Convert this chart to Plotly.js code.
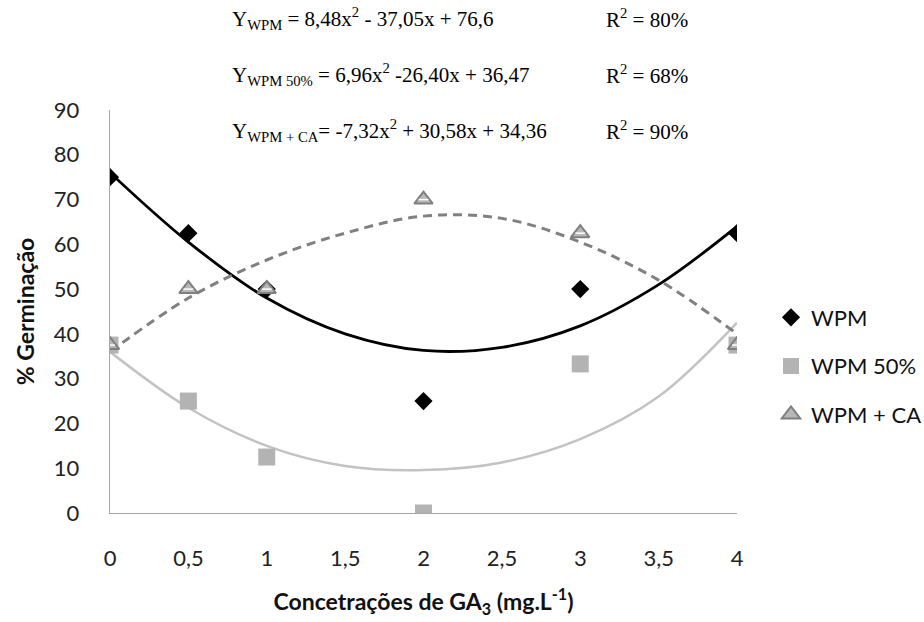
<!DOCTYPE html>
<html>
<head>
<meta charset="utf-8">
<script src="https://cdn.plot.ly/plotly-3.0.1.min.js"></script>
<style>html,body{margin:0;padding:0;background:#fff;}#chart{width:924px;height:622px;}</style>
</head>
<body>
<div id="chart"></div>
<script>
// Observed data (GA3 concentration in mg/L vs % germination)
const concentrations = [0, 0.5, 1, 2, 3, 4];
const wpm      = [75, 62.5, 50, 25, 50, 62.5];
const wpm50    = [37.5, 25, 12.5, 0, 33.3, 37.5];
const wpmCA    = [37.5, 50, 50, 70, 62.5, 37.5];

// Trend lines
const trendX     = [0, 0.5, 1, 1.5, 2, 2.5, 3, 3.5, 4];
const trendWPM   = [76, 60.5, 48, 40, 36.3, 37, 41.8, 51, 64];
const trendWPM50 = [36, 23.5, 15, 10.5, 9.6, 11.3, 16.5, 26, 42.5];
const trendWPMCA = [36, 48, 56.5, 62.5, 66.3, 65.8, 60.5, 52, 40];

const seriesNames = ['WPM', 'WPM 50%', 'WPM + CA'];
const xTickVals = [0, 0.5, 1, 1.5, 2, 2.5, 3, 3.5, 4];
const xTickText = ['0', '0,5', '1', '1,5', '2', '2,5', '3', '3,5', '4'];
const yTickVals = [0, 10, 20, 30, 40, 50, 60, 70, 80, 90];

const equations = [
  'Y<sub>WPM</sub> = 8,48x<sup>2</sup> - 37,05x + 76,6',
  'Y<sub>WPM 50%</sub> = 6,96x<sup>2</sup> -26,40x + 36,47',
  'Y<sub>WPM + CA</sub>= -7,32x<sup>2</sup> + 30,58x + 34,36'
];
const r2Labels = ['R<sup>2</sup> = 80%', 'R<sup>2</sup> = 68%', 'R<sup>2</sup> = 90%'];

const sansFont = 'Lato, "Open Sans", sans-serif';
const serifFont = '"Liberation Serif", "Times New Roman", serif';

const traces = [
  {x: trendX, y: trendWPM, mode: 'lines', line: {color: '#000000', width: 2.8, shape: 'spline'}, showlegend: false, hoverinfo: 'skip'},
  {x: trendX, y: trendWPM50, mode: 'lines', line: {color: '#c3c3c3', width: 2.5, shape: 'spline'}, showlegend: false, hoverinfo: 'skip'},
  {x: trendX, y: trendWPMCA, mode: 'lines', line: {color: '#808080', width: 3, shape: 'spline', dash: '9px,6px'}, showlegend: false, hoverinfo: 'skip'},
  {x: concentrations, y: wpm50, name: seriesNames[1], mode: 'markers', legendgroup: 'b', legendrank: 2,
   marker: {symbol: 'square', size: 17, color: '#b3b3b3'}},
  {x: concentrations, y: wpm, name: seriesNames[0], mode: 'markers', legendgroup: 'a', legendrank: 1,
   marker: {symbol: 'diamond', size: 14, color: '#000000'}},
  {x: concentrations, y: wpmCA, name: seriesNames[2], mode: 'markers', legendgroup: 'c', legendrank: 3,
   marker: {symbol: 'triangle-up', size: 16, color: '#b8b8b8', line: {color: '#7f7f7f', width: 2}}},
  {x: concentrations, y: wpmCA, mode: 'markers', showlegend: false, hoverinfo: 'skip',
   marker: {symbol: 'line-ew', size: 7, line: {color: '#ffffff', width: 1.5}}}
];

const L = 110, R = 187, T = 110, B = 109;
const plotW = 924 - L - R, plotH = 622 - T - B;
const px = v => (v - L) / plotW;
const py = v => (622 - B - v) / plotH;

const eqY = [18, 75, 130];
const annotations = [];
equations.forEach((t, i) => {
  annotations.push({xref: 'paper', yref: 'paper', x: px(230), y: py(eqY[i]), xanchor: 'left', yanchor: 'middle',
    text: t, showarrow: false, font: {family: serifFont, size: 21, color: '#000'}});
  annotations.push({xref: 'paper', yref: 'paper', x: px(604), y: py(eqY[i]), xanchor: 'left', yanchor: 'middle',
    text: r2Labels[i], showarrow: false, font: {family: serifFont, size: 21, color: '#000'}});
});

const layout = {
  width: 924, height: 622,
  margin: {l: L, r: R, t: T, b: B, autoexpand: false},
  paper_bgcolor: '#ffffff', plot_bgcolor: '#ffffff',
  font: {family: sansFont, color: '#222'},
  showlegend: true,
  legend: {x: px(771), y: py(366), xanchor: 'left', yanchor: 'middle', tracegroupgap: 17,
    font: {family: sansFont, size: 22, color: '#111'}, bgcolor: 'rgba(0,0,0,0)'},
  xaxis: {range: [0, 4], tickvals: xTickVals, ticktext: xTickText, showgrid: false, zeroline: false,
    showline: true, linecolor: '#a6a6a6', linewidth: 1.3, ticks: '', ticklabelstandoff: 25,
    tickfont: {family: sansFont, size: 22, color: '#222'},
    title: {text: '<b>Concetrações de GA<sub>3</sub> (mg.L<sup>-1</sup>)</b>', font: {family: sansFont, size: 23, color: '#111'}, standoff: 24}},
  yaxis: {range: [0, 90], tickvals: yTickVals, showgrid: false, zeroline: false,
    showline: true, linecolor: '#a6a6a6', linewidth: 1.3, ticks: '', ticklabelstandoff: 25,
    tickfont: {family: sansFont, size: 22, color: '#222'},
    title: {text: '<b>% Germinação</b>', font: {family: sansFont, size: 23, color: '#111'}, standoff: 12}},
  annotations: annotations
};

Plotly.newPlot('chart', traces, layout, {displayModeBar: false, staticPlot: true});
</script>
</body>
</html>
